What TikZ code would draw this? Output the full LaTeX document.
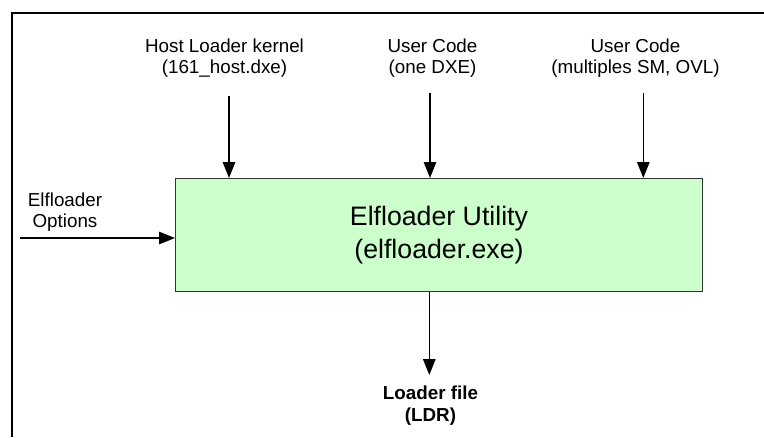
\documentclass[tikz,border=0pt]{standalone}
\usepackage{fontspec}
\setmainfont{Liberation Sans}
\usetikzlibrary{arrows.meta}

\begin{document}
\begin{tikzpicture}[x = 1pt, y = -1pt,
	lbl/.style = {align = center, inner sep = 0, font = \fontsize{18.8}{21.5}\selectfont},
	arr/.style = {-{Triangle[length = 16pt, width = 12.5pt]}, line width = 1.3pt}]
	\useasboundingbox (0,0) rectangle (764,437);
	\draw[line width = 2pt] (764,13.3) -- (11.7,13.3) -- (11.7,437);
	% the utility box
	\node[draw = black!80, line width = 1pt, fill = green!20, minimum width = 527pt, minimum height = 113pt, align = center, font = \fontsize{26.7}{33.5}\selectfont] (util) at (439,235) {Elfloader Utility\\(elfloader.exe)};
	% inputs and output
	\node[lbl] (host) at (224.5,58) {Host Loader kernel\\(161\_host.dxe)};
	\node[lbl] (dxe) at (432.5,58) {User Code\\(one DXE)};
	\node[lbl] (ovl) at (635.5,58) {User Code\\(multiples SM, OVL)};
	\node[lbl] (opts) at (65,212) {Elfloader\\Options};
	\node[lbl, font = \bfseries\fontsize{18.8}{21.5}\selectfont] (ldr) at (430.5,405.6) {Loader file\\(LDR)};
	\coordinate (hostin) at (229,96);
	\coordinate (dxein) at (430,93.3);
	\coordinate (ovlin) at (643.3,93.3);
	\coordinate (optsin) at (20,238);
	\coordinate (ldrout) at (429.3,375);
	\draw[arr] (hostin) -- (hostin |- util.north);
	\draw[arr] (dxein) -- (dxein |- util.north);
	\draw[arr] (ovlin) -- (ovlin |- util.north);
	\draw[arr] (optsin) -- (optsin -| util.west);
	\draw[arr] (util.south -| ldrout) -- (ldrout);
\end{tikzpicture}
\end{document}
